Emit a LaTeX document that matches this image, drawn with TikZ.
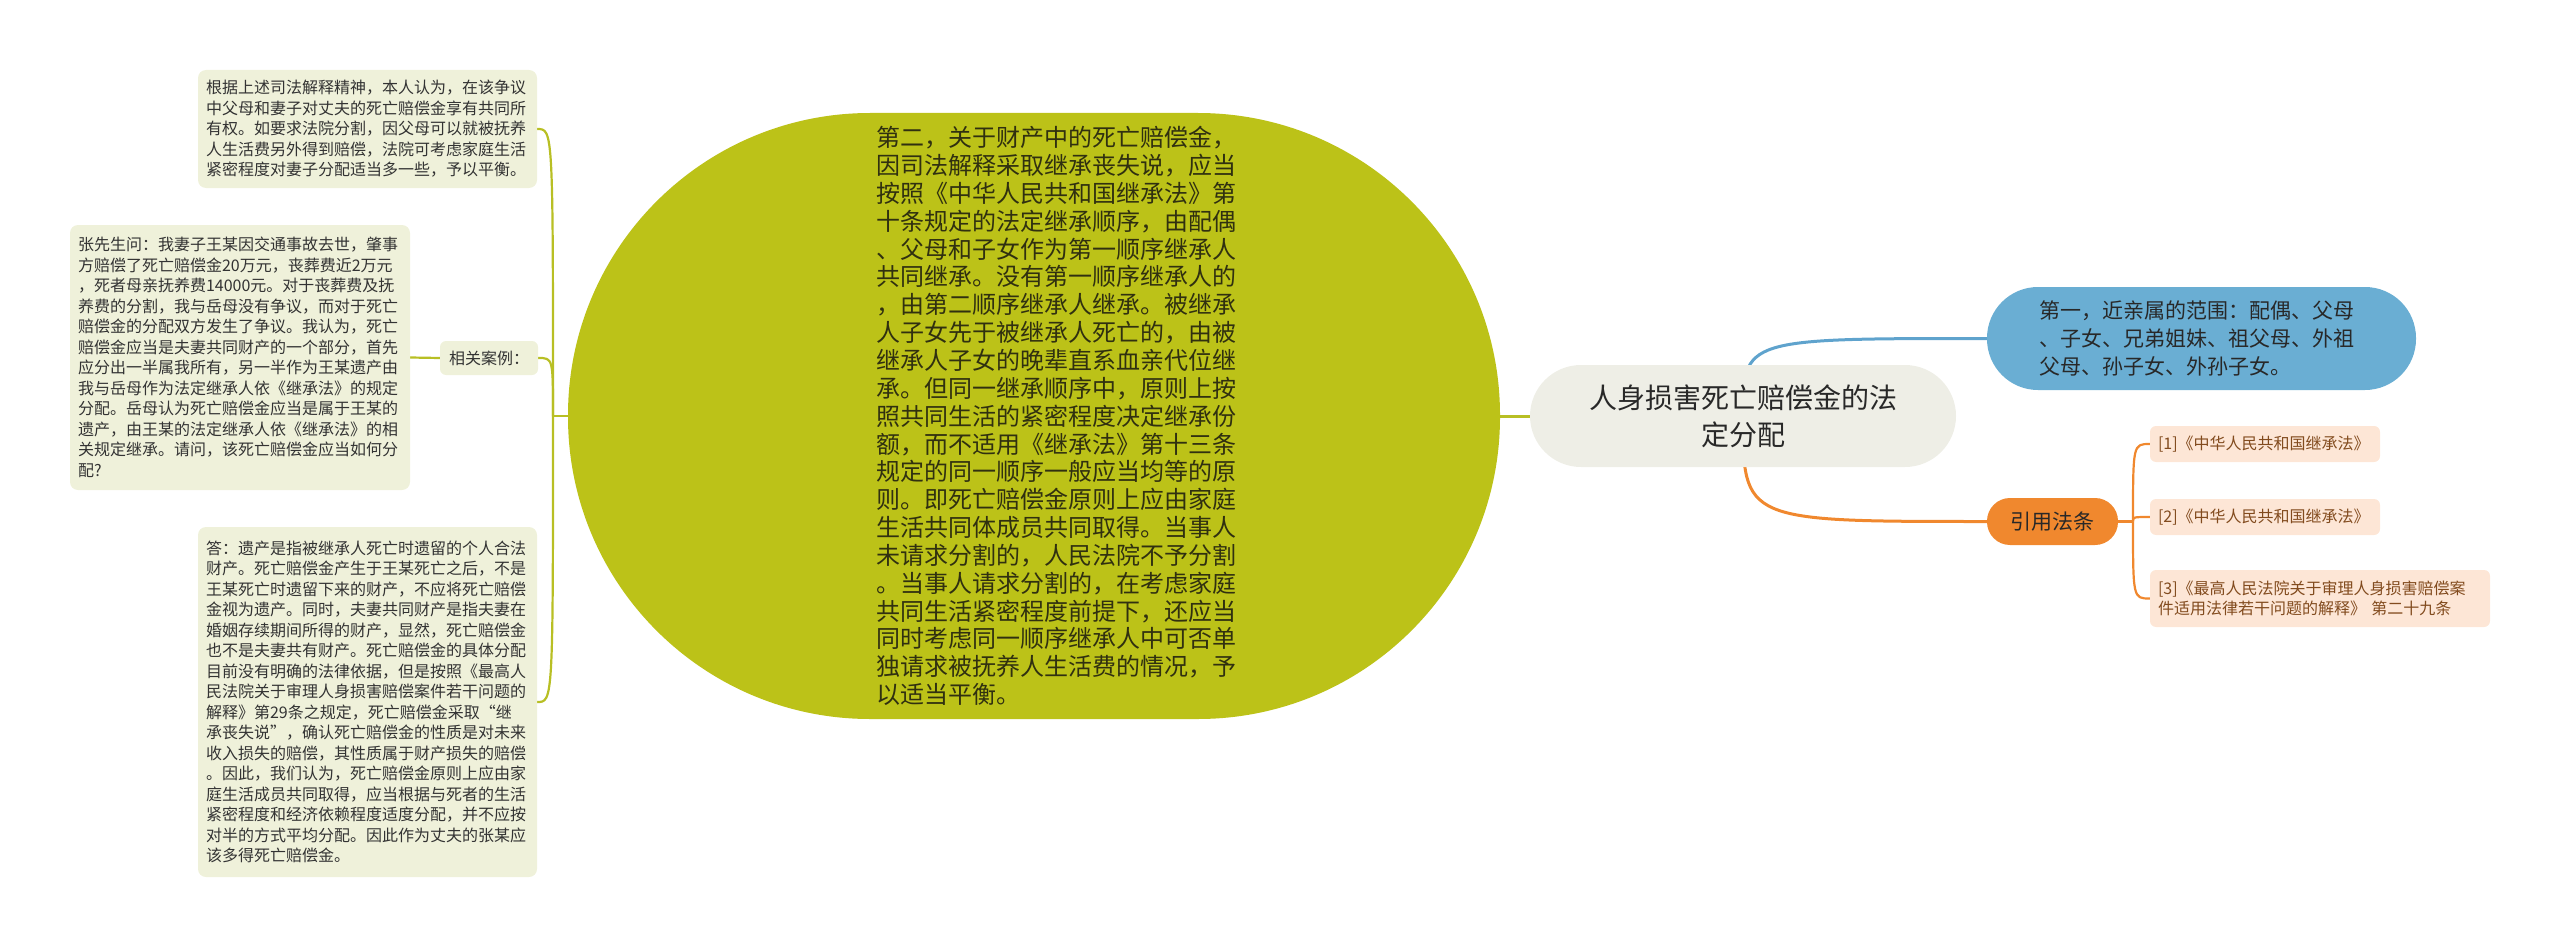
\documentclass[tikz,border=0pt]{standalone}
\usepackage{fontspec}
\setmainfont{Noto Sans CJK SC}
\definecolor{olivefill}{RGB}{188,194,24}
\definecolor{oliveline}{RGB}{184,191,36}
\definecolor{olivetext}{RGB}{48,48,16}
\definecolor{notebg}{RGB}{239,241,218}
\definecolor{notetext}{RGB}{51,51,51}
\definecolor{rootgray}{RGB}{238,238,230}
\definecolor{skyblue}{RGB}{106,174,211}
\definecolor{skyline}{RGB}{95,163,205}
\definecolor{tangerine}{RGB}{240,136,46}
\definecolor{peach}{RGB}{253,230,214}
\definecolor{lawbrown}{RGB}{130,75,30}
\definecolor{darktext}{RGB}{40,40,40}
\pgfdeclarelayer{bg}
\pgfsetlayers{bg,main}

\begin{document}
\begin{tikzpicture}[x=1pt,y=-1pt,
  note/.style={fill=notebg, text=notetext, rounded corners=8pt, align=left, inner xsep=8pt, inner ysep=0pt, font=\fontsize{16}{20.5}\selectfont},
  lawbox/.style={fill=peach, text=lawbrown, rounded corners=6pt, align=left, inner xsep=8pt, inner ysep=0pt, font=\fontsize{16}{20}\selectfont},
  olivelink/.style={draw=oliveline, line width=2.2pt},
  orangelink/.style={draw=tangerine, line width=2.2pt}]
\useasboundingbox (0,0) rectangle (2560,947);
% main topic and its branches
\node[fill=rootgray, text=darktext, rounded corners=51pt, minimum width=426pt, minimum height=102pt, align=center, font=\fontsize{28}{37}\selectfont] (root) at (1743,416) {人身损害死亡赔偿金的法\\定分配};
\node[fill=olivefill, text=olivetext, rounded corners=302pt, minimum width=932pt, minimum height=606pt, text width=316pt, align=left, font=\fontsize{24}{27.85}\selectfont] (sec) at (1034,416) {第二，关于财产中的死亡赔偿金，\\因司法解释采取继承丧失说，应当\\按照《中华人民共和国继承法》第\\十条规定的法定继承顺序，由配偶\\、父母和子女作为第一顺序继承人\\共同继承。没有第一顺序继承人的\\，由第二顺序继承人继承。被继承\\人子女先于被继承人死亡的，由被\\继承人子女的晚辈直系血亲代位继\\承。但同一继承顺序中，原则上按\\照共同生活的紧密程度决定继承份\\额，而不适用《继承法》第十三条\\规定的同一顺序一般应当均等的原\\则。即死亡赔偿金原则上应由家庭\\生活共同体成员共同取得。当事人\\未请求分割的，人民法院不予分割\\。当事人请求分割的，在考虑家庭\\共同生活紧密程度前提下，还应当\\同时考虑同一顺序继承人中可否单\\独请求被抚养人生活费的情况，予\\以适当平衡。};
\node[fill=skyblue, text=darktext, rounded corners=51pt, minimum width=429pt, minimum height=103pt, text width=325pt, inner xsep=0pt, align=left, font=\fontsize{21}{28}\selectfont] (first) at (2201.5,338.5) {第一，近亲属的范围：配偶、父母\\、子女、兄弟姐妹、祖父母、外祖\\父母、孙子女、外孙子女。};
\node[fill=tangerine, text=darktext, rounded corners=23pt, minimum width=131pt, minimum height=47pt, font=\fontsize{21}{21}\selectfont] (law) at (2052.5,521.5) {引用法条};
\node[lawbox, text width=214pt, minimum height=36pt] (l1) at (2265,444) {[1]《中华人民共和国继承法》};
\node[lawbox, text width=214pt, minimum height=36pt] (l2) at (2265,517) {[2]《中华人民共和国继承法》};
\node[lawbox, text width=324pt, minimum height=57pt] (l3) at (2320,598.5) {[3]《最高人民法院关于审理人身损害赔偿案\\件适用法律若干问题的解释》 第二十九条};
% notes on the left
\node[note, text width=323pt, minimum height=118pt] (b1) at (367.5,129) {根据上述司法解释精神，本人认为，在该争议\\中父母和妻子对丈夫的死亡赔偿金享有共同所\\有权。如要求法院分割，因父母可以就被抚养\\人生活费另外得到赔偿，法院可考虑家庭生活\\紧密程度对妻子分配适当多一些，予以平衡。};
\node[note, text width=324pt, minimum height=265pt] (b2) at (240,357.5) {张先生问：我妻子王某因交通事故去世，肇事\\方赔偿了死亡赔偿金20万元，丧葬费近2万元\\，死者母亲抚养费14000元。对于丧葬费及抚\\养费的分割，我与岳母没有争议，而对于死亡\\赔偿金的分配双方发生了争议。我认为，死亡\\赔偿金应当是夫妻共同财产的一个部分，首先\\应分出一半属我所有，另一半作为王某遗产由\\我与岳母作为法定继承人依《继承法》的规定\\分配。岳母认为死亡赔偿金应当是属于王某的\\遗产，由王某的法定继承人依《继承法》的相\\关规定继承。请问，该死亡赔偿金应当如何分\\配?};
\node[note, text width=323pt, minimum height=350pt] (b3) at (367.5,702) {答：遗产是指被继承人死亡时遗留的个人合法\\财产。死亡赔偿金产生于王某死亡之后，不是\\王某死亡时遗留下来的财产，不应将死亡赔偿\\金视为遗产。同时，夫妻共同财产是指夫妻在\\婚姻存续期间所得的财产，显然，死亡赔偿金\\也不是夫妻共有财产。死亡赔偿金的具体分配\\目前没有明确的法律依据，但是按照《最高人\\民法院关于审理人身损害赔偿案件若干问题的\\解释》第29条之规定，死亡赔偿金采取“继\\承丧失说”，确认死亡赔偿金的性质是对未来\\收入损失的赔偿，其性质属于财产损失的赔偿\\。因此，我们认为，死亡赔偿金原则上应由家\\庭生活成员共同取得，应当根据与死者的生活\\紧密程度和经济依赖程度适度分配，并不应按\\对半的方式平均分配。因此作为丈夫的张某应\\该多得死亡赔偿金。};
\node[note, align=center, minimum width=98pt, minimum height=34pt, rounded corners=6pt] (case) at (489,358) {相关案例：};
\coordinate (lj) at (553,416);
\coordinate (rj) at (2133,521.5);
\begin{pgfonlayer}{bg}
\draw[oliveline, line width=3pt] (root) -- (sec);
\draw[skyline, line width=3pt] (root.center) .. controls (root.center |- first.west) .. (first.west);
\draw[tangerine, line width=3pt] (root.center) .. controls (root.center |- law.west) .. (law.west);
\draw[olivelink] (sec.west) -- (lj);
\draw[olivelink] (b2.east) -- (case.west);
\foreach \n in {b1,case,b3}
  \draw[olivelink] (lj) .. controls (lj |- \n.east) .. (\n.east);
\draw[orangelink] (law.east) -- (rj);
\foreach \n in {l1,l2,l3}
  \draw[orangelink] (rj) .. controls (rj |- \n.west) .. (\n.west);
\end{pgfonlayer}
\end{tikzpicture}
\end{document}
